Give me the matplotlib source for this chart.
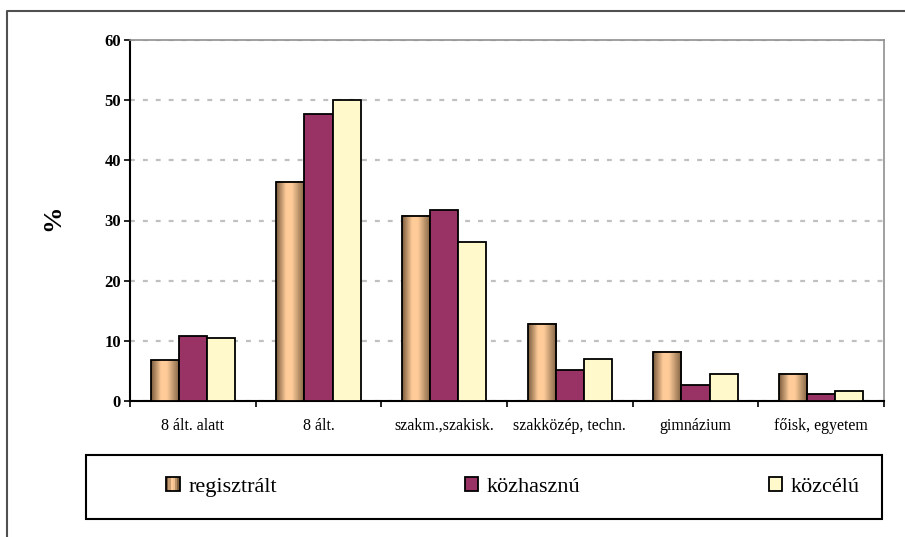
import numpy as np
import matplotlib
matplotlib.use("Agg")
import matplotlib.pyplot as plt
from matplotlib.colors import LinearSegmentedColormap
from matplotlib.patches import Rectangle
from matplotlib.legend_handler import HandlerBase
from matplotlib.lines import Line2D

categories = ['8 ált. alatt', '8 ált.', 'szakm.,szakisk.', 'szakközép, techn.', 'gimnázium', 'főisk, egyetem']
series_names = ['regisztrált', 'közhasznú', 'közcélú']
regisztralt = [6.8, 36.4, 30.8, 12.8, 8.2, 4.5]
kozhasznu = [10.8, 47.7, 31.7, 5.2, 2.6, 1.2]
kozcelu = [10.4, 50.0, 26.5, 6.9, 4.5, 1.6]
yticks = [0, 10, 20, 30, 40, 50, 60]

plt.rcParams['font.family'] = ['Liberation Serif', 'DejaVu Serif']

grad_cmap = LinearSegmentedColormap.from_list(
    'cyl', [(0.0, '#7a5c3e'), (0.35, '#ffcc99'), (0.55, '#ffcc99'), (1.0, '#7f6142')])
kozh_color = '#993366'
kozc_color = '#fff9cc'

fig = plt.figure(figsize=(9.05, 5.37), dpi=100)
ax = fig.add_axes([130/905, 1-401/537, (884-130)/905, (401-40)/537])

x = np.arange(len(categories))
w = 0.223
edge_lw = 1.3

b1 = ax.bar(x - w, regisztralt, w, facecolor='none', edgecolor='black', linewidth=edge_lw, zorder=4)
ax.bar(x, kozhasznu, w, color=kozh_color, edgecolor='black', linewidth=edge_lw, zorder=4)
ax.bar(x + w, kozcelu, w, color=kozc_color, edgecolor='black', linewidth=edge_lw, zorder=4)

grad = np.linspace(0, 1, 64).reshape(1, -1)
for r in b1:
    x0, y0 = r.get_x(), r.get_y()
    ax.imshow(grad, cmap=grad_cmap, extent=(x0, x0 + r.get_width(), y0, y0 + r.get_height()),
              aspect='auto', zorder=3, interpolation='bilinear')

ax.set_xlim(-0.5, len(categories) - 0.5)
ax.set_ylim(0, 60)
ax.set_yticks(yticks)
ax.set_yticklabels([str(v) for v in yticks], fontsize=12, fontweight='bold')
ax.tick_params(axis='y', direction='out', length=4, width=1.2, pad=2.5)

ax.set_xticks(np.arange(-0.5, len(categories)), labels=[''] * (len(categories) + 1))
ax.set_xticks(x, labels=categories, minor=True)
ax.tick_params(axis='x', which='major', direction='out', length=4, width=1.2)
ax.tick_params(axis='x', which='minor', length=0, pad=12, labelsize=11.5)

ax.set_axisbelow(True)
ax.yaxis.grid(True, color='#c0c0c0', linewidth=1.6, linestyle=(0, (2.2, 3.6)))
for s in ['left', 'bottom']:
    ax.spines[s].set_color('black')
    ax.spines[s].set_linewidth(1.5)
for s in ['top', 'right']:
    ax.spines[s].set_color('#909090')
    ax.spines[s].set_linewidth(1.2)

fig.text(53/905, 1-218/537, '%', rotation=90, ha='center', va='center',
         fontsize=19, fontweight='bold')

# outer frame (partial)
fig.add_artist(Line2D([7/905, 7/905, 1.0], [0.0, 1-11/537, 1-11/537],
                      transform=fig.transFigure, color='#505050', linewidth=1.5))

# legend frame
fig.add_artist(Rectangle((86/905, 1-519/537), (882-86)/905, (519-455)/537,
                         transform=fig.transFigure, fill=False, edgecolor='black', linewidth=1.5))


class GradHandler(HandlerBase):
    def create_artists(self, legend, orig_handle, xdescent, ydescent, width, height, fontsize, trans):
        arts = []
        n = 6
        cols = grad_cmap(np.linspace(0, 1, n))
        for i in range(n):
            arts.append(Rectangle((-xdescent + i * width / n, -ydescent), width / n, height,
                                  facecolor=cols[i], edgecolor='none', transform=trans))
        arts.append(Rectangle((-xdescent, -ydescent), width, height, facecolor='none',
                              edgecolor='black', linewidth=1.3, transform=trans))
        return arts


h_reg = Rectangle((0, 0), 1, 1)
h_kozh = Rectangle((0, 0), 1, 1, facecolor=kozh_color, edgecolor='black', linewidth=1.3)
h_kozc = Rectangle((0, 0), 1, 1, facecolor=kozc_color, edgecolor='black', linewidth=1.3)

fig.legend([h_reg, h_kozh, h_kozc], series_names, ncol=3, frameon=False,
           loc='center', bbox_to_anchor=(513/905, 1-487/537),
           fontsize=16, handlelength=0.6, handleheight=0.6, handletextpad=0.4,
           columnspacing=8.45, handler_map={h_reg: GradHandler()})

fig.savefig('out.png', dpi=100)
